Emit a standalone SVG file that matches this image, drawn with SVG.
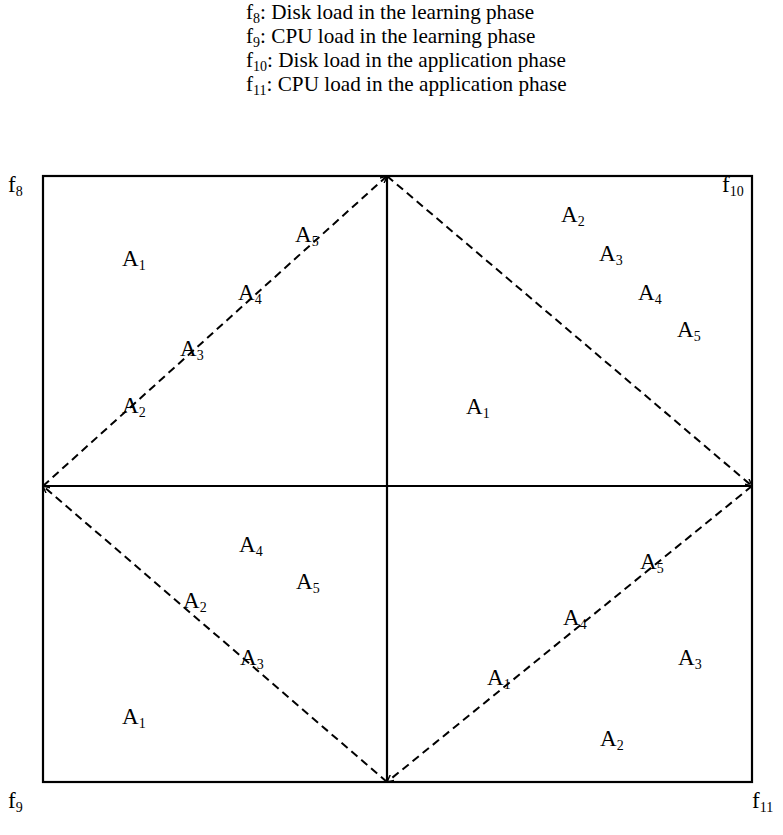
<svg xmlns="http://www.w3.org/2000/svg" width="783" height="835" viewBox="0 0 783 835">
<style>
text{font-family:"Liberation Serif","Times New Roman",serif;fill:#000}
.leg{font-size:21.2px}
.lab{font-size:23px}
.sub{font-size:14px}
.solid{stroke:#000;stroke-width:2.2;fill:none}
.dash{stroke:#000;stroke-width:2;fill:none;stroke-dasharray:8,5}
</style>
<defs>
<marker id="ah" viewBox="0 0 10 10" refX="10" refY="5" markerWidth="3.5" markerHeight="3.5" orient="auto">
<path d="M0,0 L10,5 L0,10" fill="none" stroke="#000" stroke-width="2"/>
</marker>
</defs>
<g id="legend">
<text class="leg" x="246" y="19">f<tspan class="sub" dy="4">8</tspan><tspan dy="-4">: Disk load in the learning phase</tspan></text>
<text class="leg" x="246" y="43">f<tspan class="sub" dy="4">9</tspan><tspan dy="-4">: CPU load in the learning phase</tspan></text>
<text class="leg" x="246" y="67">f<tspan class="sub" dy="4">10</tspan><tspan dy="-4">: Disk load in the application phase</tspan></text>
<text class="leg" x="246" y="91">f<tspan class="sub" dy="4">11</tspan><tspan dy="-4">: CPU load in the application phase</tspan></text>
</g>
<g id="corners">
<text class="lab" x="8" y="192">f<tspan class="sub" dy="4">8</tspan></text>
<text class="lab" x="722" y="192">f<tspan class="sub" dy="4">10</tspan></text>
<text class="lab" x="8" y="808">f<tspan class="sub" dy="4">9</tspan></text>
<text class="lab" x="752" y="808">f<tspan class="sub" dy="4">11</tspan></text>
</g>
<g id="frame">
<rect class="solid" x="43" y="176" width="709" height="606"/>
<line class="solid" x1="387" y1="176" x2="387" y2="782"/>
<line class="solid" x1="43" y1="486" x2="752" y2="486"/>
</g>
<g id="connectors">
<line class="dash" x1="43" y1="486" x2="387" y2="176" marker-end="url(#ah)"/>
<line class="dash" x1="387" y1="176" x2="752" y2="486" marker-end="url(#ah)"/>
<line class="dash" x1="752" y1="486" x2="387" y2="782" marker-end="url(#ah)"/>
<line class="dash" x1="387" y1="782" x2="43" y2="486" marker-end="url(#ah)"/>
</g>
<g id="q1">
<text class="lab" x="122" y="266">A<tspan class="sub" dy="4">1</tspan></text>
<text class="lab" x="295" y="242">A<tspan class="sub" dy="4">5</tspan></text>
<text class="lab" x="238" y="300">A<tspan class="sub" dy="4">4</tspan></text>
<text class="lab" x="180" y="356">A<tspan class="sub" dy="4">3</tspan></text>
<text class="lab" x="122" y="413">A<tspan class="sub" dy="4">2</tspan></text>
</g>
<g id="q2">
<text class="lab" x="561" y="222">A<tspan class="sub" dy="4">2</tspan></text>
<text class="lab" x="599" y="261">A<tspan class="sub" dy="4">3</tspan></text>
<text class="lab" x="638" y="300">A<tspan class="sub" dy="4">4</tspan></text>
<text class="lab" x="677" y="337">A<tspan class="sub" dy="4">5</tspan></text>
<text class="lab" x="466" y="414">A<tspan class="sub" dy="4">1</tspan></text>
</g>
<g id="q3">
<text class="lab" x="239" y="552">A<tspan class="sub" dy="4">4</tspan></text>
<text class="lab" x="296" y="589">A<tspan class="sub" dy="4">5</tspan></text>
<text class="lab" x="183" y="608">A<tspan class="sub" dy="4">2</tspan></text>
<text class="lab" x="240" y="665">A<tspan class="sub" dy="4">3</tspan></text>
<text class="lab" x="122" y="724">A<tspan class="sub" dy="4">1</tspan></text>
</g>
<g id="q4">
<text class="lab" x="640" y="569">A<tspan class="sub" dy="4">5</tspan></text>
<text class="lab" x="563" y="625">A<tspan class="sub" dy="4">4</tspan></text>
<text class="lab" x="487" y="685">A<tspan class="sub" dy="4">1</tspan></text>
<text class="lab" x="678" y="665">A<tspan class="sub" dy="4">3</tspan></text>
<text class="lab" x="600" y="746">A<tspan class="sub" dy="4">2</tspan></text>
</g>
</svg>
